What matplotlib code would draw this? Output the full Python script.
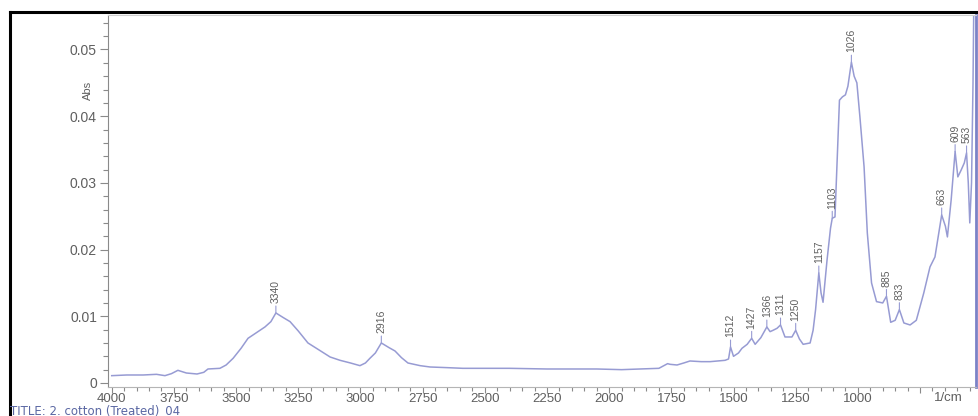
import matplotlib
matplotlib.use("Agg")
import matplotlib.pyplot as plt
from matplotlib.lines import Line2D
from matplotlib.ticker import FixedLocator, FuncFormatter

# FTIR spectrum, treated cotton (wavenumber in 1/cm, absorbance)
wavenumber = [4000, 3940, 3874, 3820, 3786, 3760, 3734, 3700, 3657, 3630, 3613, 3565,
              3540, 3512, 3480, 3452, 3420, 3384, 3360, 3340, 3310, 3283, 3250, 3211,
              3160, 3122, 3082, 3040, 3002, 2980, 2962, 2940, 2916, 2885, 2861, 2835,
              2809, 2760, 2720, 2650, 2588, 2400, 2250, 2157, 2050, 1950, 1876, 1800,
              1765, 1755, 1727, 1700, 1675, 1630, 1594, 1534, 1520, 1512, 1500, 1480,
              1466, 1445, 1427, 1413, 1390, 1366, 1353, 1341, 1325, 1311, 1293, 1265,
              1250, 1235, 1220, 1192, 1180, 1170, 1157, 1148, 1140, 1124, 1110, 1103,
              1092, 1074, 1062, 1050, 1040, 1026, 1015, 1004, 992, 975, 962, 945,
              925, 900, 885, 868, 850, 833, 815, 790, 765, 735, 710, 690,
              663, 648, 640, 625, 609, 598, 585, 572, 563, 556, 550, 543,
              537, 533]
absorbance = [0.0011, 0.0012, 0.0012, 0.0013, 0.0011, 0.0014, 0.0019, 0.0015, 0.00135, 0.0016, 0.0021, 0.0022,
              0.0027, 0.0037, 0.0052, 0.0067, 0.0075, 0.0084, 0.0092, 0.0105, 0.0098, 0.0092, 0.0078, 0.0060,
              0.0048, 0.0039, 0.0034, 0.0030, 0.0026, 0.0030, 0.0037, 0.0045, 0.0060, 0.0053, 0.0048, 0.0038,
              0.0030, 0.0026, 0.0024, 0.0023, 0.0022, 0.0022, 0.0021, 0.0021, 0.0021, 0.0020, 0.0021, 0.0022,
              0.0029, 0.0028, 0.0027, 0.0030, 0.0033, 0.0032, 0.0032, 0.0034, 0.0036, 0.0054, 0.0040, 0.0045,
              0.0052, 0.0058, 0.0067, 0.0058, 0.0068, 0.0084, 0.0077, 0.0079, 0.0082, 0.0087, 0.0069, 0.0069,
              0.0079, 0.0066, 0.0058, 0.0060, 0.0079, 0.0110, 0.0165, 0.0135, 0.0121, 0.0184, 0.0232, 0.0247,
              0.0249, 0.0424, 0.0429, 0.0432, 0.0445, 0.0481, 0.0460, 0.0450, 0.0400, 0.0324, 0.0225, 0.0150,
              0.0122, 0.0120, 0.0130, 0.0091, 0.0094, 0.0110, 0.0090, 0.0087, 0.0094, 0.0135, 0.0174, 0.0189,
              0.0252, 0.0235, 0.0219, 0.0274, 0.0347, 0.0309, 0.0319, 0.0330, 0.0345, 0.0300, 0.0240, 0.0300,
              0.0450, 0.0600]

peak_labels = [3340, 2916, 1512, 1427, 1366, 1311, 1250, 1157, 1103, 1026, 885, 833, 663, 609, 563]

line_color = "#979bd3"
text_color = "#5f5f5f"
tick_color = "#8a8a8a"

plt.rcParams["font.family"] = ["Liberation Sans", "DejaVu Sans"]

W, H = 979, 416
px = 72 / 100  # points per pixel at dpi 100

fig = plt.figure(figsize=(W / 100, H / 100), dpi=100)
ax = fig.add_axes([108 / W, 1 - 387 / H, 868 / W, 372 / H])

ax.plot(wavenumber, absorbance, color=line_color, lw=1.1)
ax.set_xlim(4015, 525)
ax.set_ylim(-0.0006, 0.05517)

# peak markers: short leader line then rotated value
lookup = dict(zip(wavenumber, absorbance))
for wn in peak_labels:
    ax.annotate(str(wn), xy=(wn, lookup[wn]), xytext=(0, 7), textcoords="offset points",
                rotation=90, ha="center", va="bottom", fontsize=7.5, color=text_color,
                arrowprops=dict(arrowstyle="-", color=line_color, lw=0.8, shrinkA=0, shrinkB=0))

# axis ticks
ax.xaxis.set_major_locator(FixedLocator(list(range(4000, 700, -250))))
ax.xaxis.set_minor_locator(FixedLocator(list(range(4000, 540, -50))))
ax.xaxis.set_major_formatter(FuncFormatter(lambda v, p: "" if v < 1000 else "%d" % v))
ax.yaxis.set_major_locator(FixedLocator([0, 0.01, 0.02, 0.03, 0.04, 0.05]))
ax.yaxis.set_minor_locator(FixedLocator([i * 0.002 for i in range(28)]))
ax.yaxis.set_major_formatter(FuncFormatter(lambda v, p: "0" if v == 0 else "%.2f" % v))

ax.tick_params(axis="both", which="both", direction="out", color=tick_color, width=0.8)
ax.tick_params(axis="both", which="major", labelcolor=text_color, labelsize=10)
ax.tick_params(axis="x", which="major", labelsize=9.5, length=6 * px, pad=0)
ax.tick_params(axis="x", which="minor", length=4 * px)
ax.tick_params(axis="y", which="major", length=8 * px, pad=3 * px)
ax.tick_params(axis="y", which="minor", length=5 * px)

ax.spines["top"].set_color("#cfcfcf")
ax.spines["top"].set_linewidth(0.8)
ax.spines["bottom"].set_color("#b5b5b5")
ax.spines["bottom"].set_linewidth(0.8)
ax.spines["left"].set_color(tick_color)
ax.spines["left"].set_linewidth(0.8)
ax.spines["right"].set_color("#7c82c6")
ax.spines["right"].set_linewidth(2.0)

fig.text(948 / W, 1 - 398 / H, "1/cm", ha="center", va="center", fontsize=9.5, color=text_color)
fig.text(88 / W, 1 - 90 / H, "Abs", ha="center", va="center", rotation=90, fontsize=8, color=text_color)
fig.text(10 / W, 1 - 411 / H, "TITLE: 2. cotton (Treated)_04", ha="left", va="center",
         fontsize=8.5, family="DejaVu Sans", color="#5a67a3")

# black frame on the left and top edges
fig.add_artist(Line2D([10 / W, 10 / W], [0, 1 - 12 / H], color="black", lw=2.2, transform=fig.transFigure))
fig.add_artist(Line2D([10 / W, 1], [1 - 12 / H, 1 - 12 / H], color="black", lw=2.2, transform=fig.transFigure))

fig.savefig("out.png", dpi=100)
